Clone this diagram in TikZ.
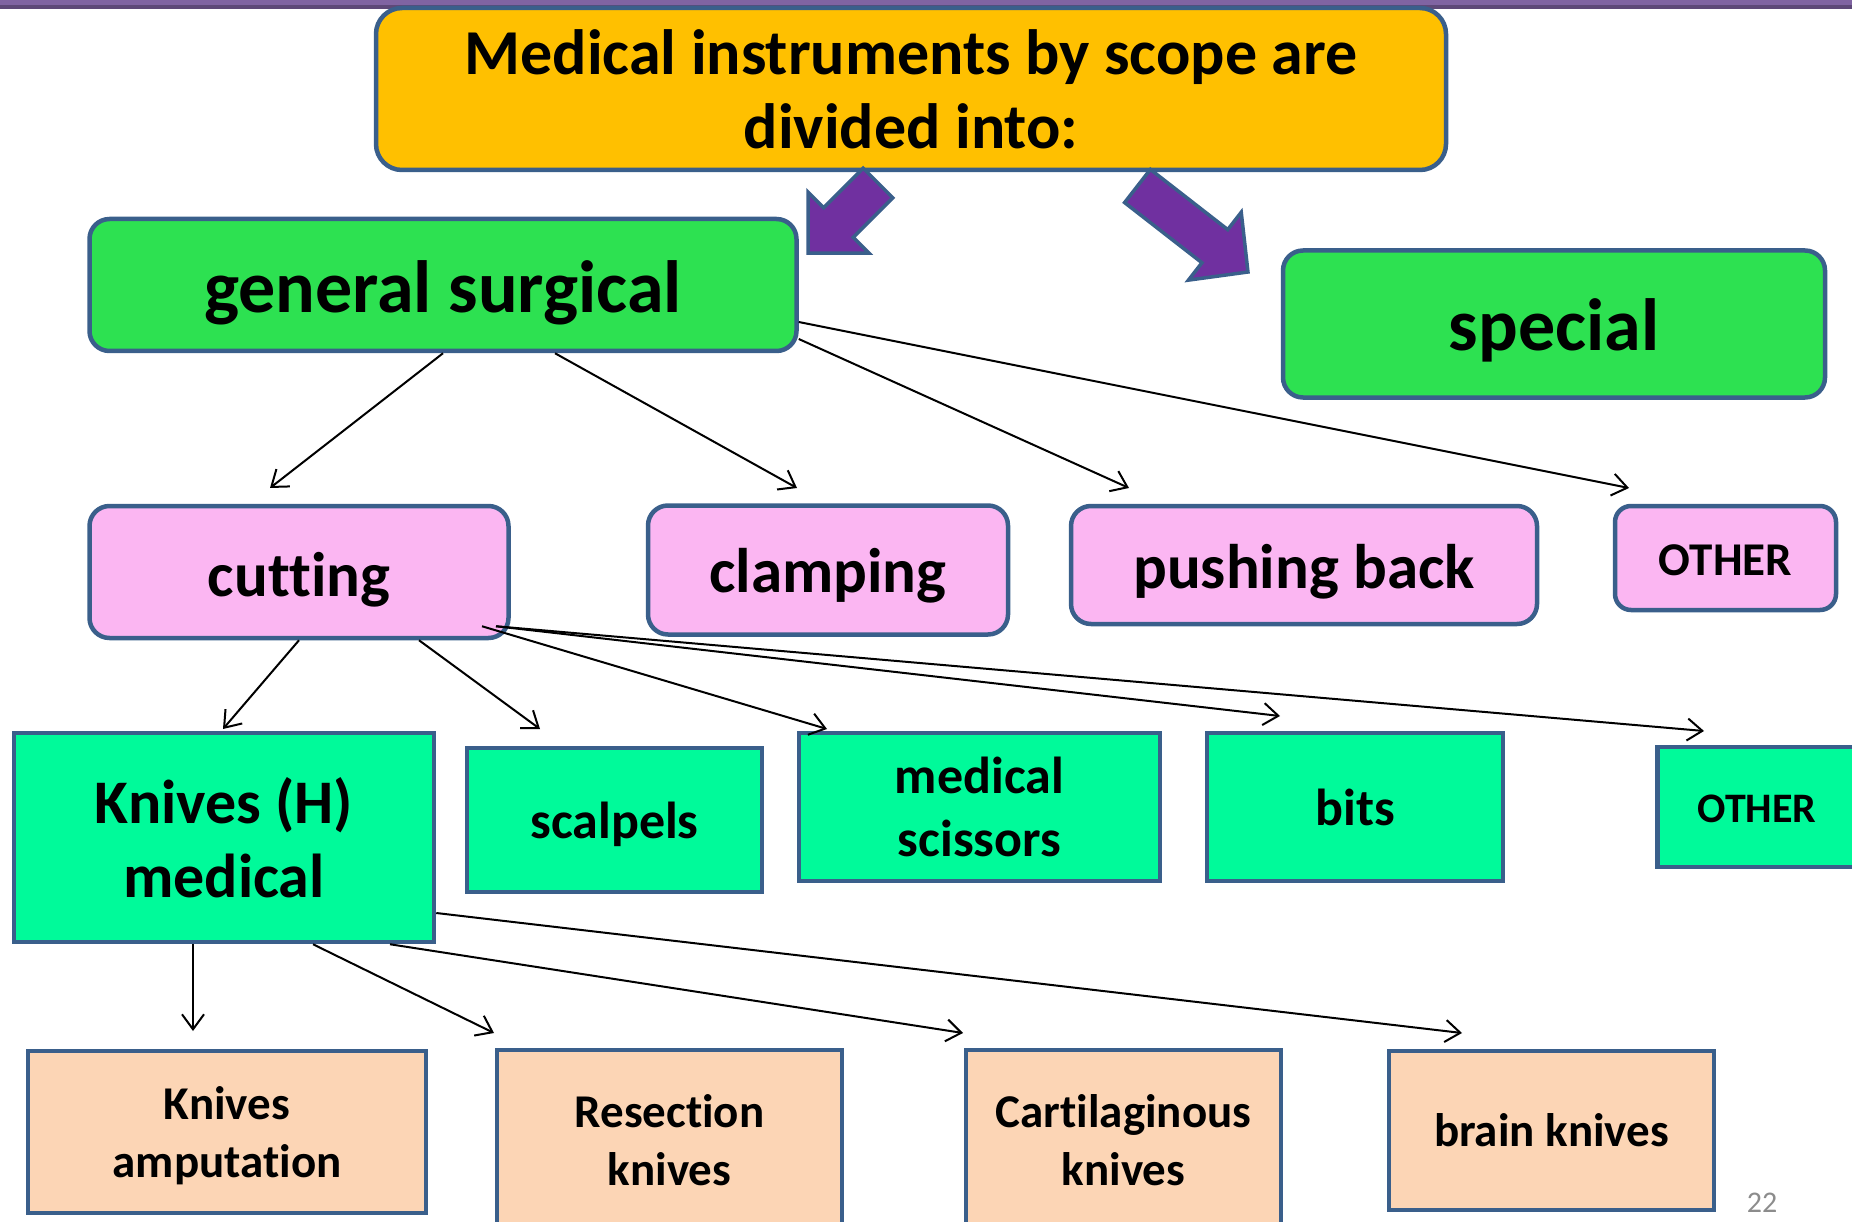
\documentclass[tikz,border=0pt]{standalone}
\usepackage{fontspec}
\setmainfont[Ligatures=CommonOff]{Carlito}
\usetikzlibrary{arrows.meta}
\definecolor{edgeblue}{HTML}{3A5F8B}
\definecolor{titlegold}{HTML}{FFC000}
\definecolor{leafgreen}{HTML}{2DE151}
\definecolor{pinkfill}{HTML}{FBB6F2}
\definecolor{mint}{HTML}{00FA9A}
\definecolor{peach}{HTML}{FCD5B5}
\definecolor{violet}{HTML}{7030A0}
\definecolor{barlight}{HTML}{8064A2}
\definecolor{bardark}{HTML}{5E4978}
\definecolor{pagegray}{HTML}{8C8C8C}
\newcommand\bsize[2]{\fontsize{#1}{#2}\selectfont\bfseries}
\begin{document}
\begin{tikzpicture}[x=1pt,y=-1pt,
  box/.style={draw=edgeblue, line width=4.5pt, align=center, inner sep=0pt, text=black},
  rbox/.style={box, rounded corners=20pt},
  conn/.style={line width=2pt, -{Straight Barb[length=15pt,width=22pt]}},
  bigarrow/.style={fill=violet, draw=edgeblue, line width=3.5pt, line join=miter}]

\useasboundingbox (0,0) rectangle (1852,1222);
\clip (0,0) rectangle (1852,1222);

% slide rule along the top edge
\fill[barlight] (0,0) rectangle (1852,5);
\fill[bardark] (0,5) rectangle (1852,9);

% heading
\node[rbox, rounded corners=26pt, fill=titlegold, minimum width=1070pt, minimum height=162pt,
      font=\bsize{64}{74}] (title) at (911,89) {Medical instruments by scope are\\divided into:};

% two main groups
\node[rbox, fill=leafgreen, minimum width=707pt, minimum height=132pt,
      font=\bsize{74}{89}, text height=56pt, text depth=0pt] (gs) at (443,285) {general surgical};
\node[rbox, fill=leafgreen, minimum width=542pt, minimum height=147pt,
      font=\bsize{74}{89}, text height=53pt, text depth=0pt] (sp) at (1554,324) {special};

% purple block arrows from the heading
\draw[bigarrow, shift={(878,183)}, rotate=225]
  (0,21) -- (56,21) -- (56,43) -- (99,0) -- (56,-43) -- (56,-21) -- (0,-21) -- cycle;
\draw[bigarrow, shift={(1137.5,186)}, rotate=-37.9]
  (0,21) -- (98,21) -- (98,43) -- (140,0) -- (98,-43) -- (98,-21) -- (0,-21) -- cycle;

% kinds of general surgical instruments
\node[rbox, fill=pinkfill, minimum width=419pt, minimum height=132pt,
      font=\bsize{63}{76}, text height=48pt, text depth=0pt] (cut) at (299,572) {cutting};
\node[rbox, fill=pinkfill, minimum width=360pt, minimum height=129pt,
      font=\bsize{63}{76}, text height=45pt, text depth=0pt] (clamp) at (828,570) {clamping};
\node[rbox, fill=pinkfill, minimum width=466pt, minimum height=118pt,
      font=\bsize{63}{76}, text height=46pt, text depth=0pt] (push) at (1304,565) {pushing back};
\node[rbox, rounded corners=16pt, fill=pinkfill, minimum width=221pt, minimum height=104pt,
      font=\bsize{47}{56}, text height=34pt, text depth=0pt] (oth1) at (1725.5,558) {OTHER};

% cutting instruments
\node[box, fill=mint, minimum width=420pt, minimum height=209pt,
      font=\bsize{62}{74}] (km) at (224,837.5) {Knives (H)\\medical};
\node[box, fill=mint, minimum width=295pt, minimum height=144pt,
      font=\bsize{52}{63}, text height=36pt, text depth=0pt] (scal) at (614.5,820) {scalpels};
\node[box, fill=mint, minimum width=361pt, minimum height=148pt,
      font=\bsize{52}{63}] (sci) at (979.5,807) {medical\\scissors};
\node[box, fill=mint, minimum width=296pt, minimum height=148pt,
      font=\bsize{52}{63}] (bits) at (1355,807) {bits};
\node[box, fill=mint, minimum width=199pt, minimum height=120pt,
      font=\bsize{42}{50}, text height=31pt, text depth=0pt] (oth2) at (1757,807) {OTHER};

% medical knives
\node[box, fill=peach, minimum width=398pt, minimum height=162pt,
      font=\bsize{47}{58}, text depth=0pt] (amp) at (227,1132) {Knives\\amputation};
\node[box, fill=peach, minimum width=345pt, minimum height=180pt,
      font=\bsize{47}{58}] (res) at (669.5,1140) {Resection\\knives};
\node[box, fill=peach, minimum width=315pt, minimum height=180pt,
      font=\bsize{47}{58}] (cart) at (1123.5,1140) {Cartilaginous\\knives};
\node[box, fill=peach, minimum width=325pt, minimum height=159pt,
      font=\bsize{47}{58}] (brain) at (1551.5,1130.5) {brain knives};

% arrow tips
\coordinate (t1) at (270,488);
\coordinate (t2) at (797,488);
\coordinate (t3) at (1129,488);
\coordinate (t4) at (1629,488);
\coordinate (t5) at (223,729);
\coordinate (t6) at (540,729);
\coordinate (t7) at (827,729);
\coordinate (t8) at (1280,716);
\coordinate (t9) at (1704,731);
\coordinate (t10) at (193,1031);
\coordinate (t11) at (494,1033);
\coordinate (t12) at (963,1033);
\coordinate (t13) at (1462,1033);

% connectors
\draw[conn] (gs.south) -- (t1);
\draw[conn] ([xshift=112pt]gs.south) -- (t2);
\draw[conn] ([yshift=-54pt]gs.east) -- (t3);
\draw[conn] ([yshift=-37pt]gs.east) -- (t4);

\draw[conn] (cut.south) -- (t5);
\draw[conn] ([xshift=120pt]cut.south) -- (t6);
\draw[conn] ([xshift=183pt,yshift=14pt]cut.south) -- (t7);
\draw[conn] ([xshift=197pt,yshift=14pt]cut.south) -- (t8);
\draw[conn] ([xshift=197pt,yshift=14pt]cut.south) -- (t9);

\draw[conn] ([xshift=-31pt]km.south) -- (t10);
\draw[conn] ([xshift=89pt]km.south) -- (t11);
\draw[conn] ([xshift=166pt]km.south) -- (t12);
\draw[conn] ([yshift=-75.5pt]km.east) -- (t13);

% slide number
\node[text=pagegray, font=\fontsize{30}{36}\selectfont, inner sep=0pt] (pgnum) at (1762,1203) {22};
\end{tikzpicture}
\end{document}
